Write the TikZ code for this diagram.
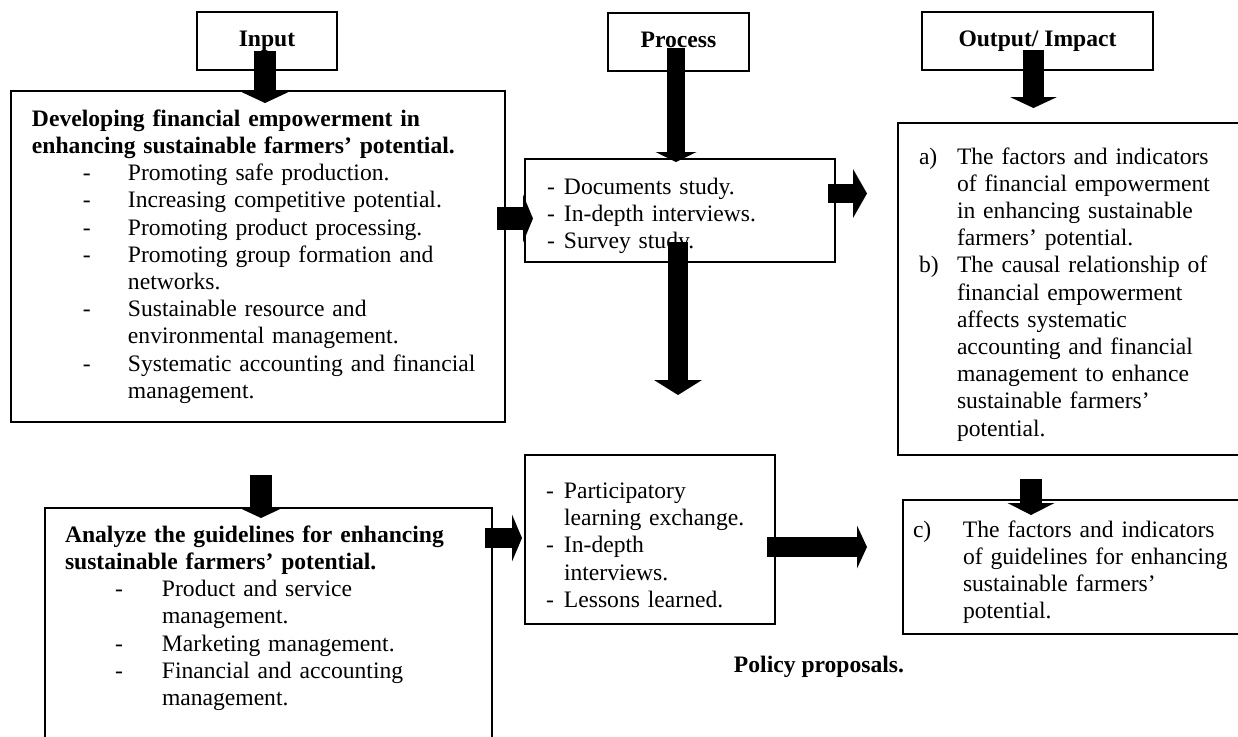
\documentclass[tikz,border=0pt]{standalone}
\usepackage{fontspec}
\setmainfont{Liberation Serif}
\usetikzlibrary{arrows.meta, calc}
\setlength{\parskip}{0pt}
\newcommand{\hangitem}[4]{\par\leftskip=#2\noindent\llap{\makebox[\dimexpr#2-#1\relax][l]{#3}}#4\par}

\begin{document}
\begin{tikzpicture}[x=0.5pt, y=0.5pt, line width=1pt,
	every node/.style = {font=\fontsize{11.8}{13.6}\selectfont, outer sep=0pt},
	head/.style = {draw, anchor=north west, inner sep=0pt, minimum height=29pt, text height=8pt, text depth=3pt, font=\fontsize{11.8}{13.6}\selectfont\bfseries},
	box/.style = {draw, anchor=north west, align=left},
	fat/.style = {line width=11pt, -{Triangle[width=23.5pt, length=5.5pt, line width=0pt]}}]
	\useasboundingbox (0,0) rectangle (1238,-736);
	\clip (0,0) rectangle (1238,-736);

	\node[head, minimum width=70pt] (Input) at (197,-12) {Input};
	\node[head, minimum width=70.5pt] (Process) at (608,-13) {Process};
	\node[head, minimum width=115.5pt] (Output) at (922,-12) {Output/ Impact};

	\node[box, text width=226pt, inner xsep=10.5pt, minimum width=247pt, minimum height=165.5pt] (InBox) at (11,-91) {{\bfseries Developing financial empowerment in\newline enhancing sustainable farmers’ potential.}
		\hangitem{25.5pt}{48pt}{-}{Promoting safe production.}
		\hangitem{25.5pt}{48pt}{-}{Increasing competitive potential.}
		\hangitem{25.5pt}{48pt}{-}{Promoting product processing.}
		\hangitem{25.5pt}{48pt}{-}{Promoting group formation and\newline networks.}
		\hangitem{25.5pt}{48pt}{-}{Sustainable resource and\newline environmental management.}
		\hangitem{25.5pt}{48pt}{-}{Systematic accounting and financial\newline management.}};

	\node[box, text width=133pt, inner xsep=11pt, minimum width=155pt, minimum height=51.5pt] (ProcA) at (525,-159) {\hangitem{0pt}{8.5pt}{-}{Documents study.}
		\hangitem{0pt}{8.5pt}{-}{In-depth interviews.}
		\hangitem{0pt}{8.5pt}{-}{Survey study.}};

	\node[box, text width=151pt, inner xsep=10.5pt, minimum width=172pt, minimum height=166pt] (OutBox) at (898,-123) {\hangitem{0pt}{19pt}{a)}{The factors and indicators\newline of financial empowerment\newline in enhancing sustainable\newline farmers’ potential.}
		\hangitem{0pt}{19pt}{b)}{The causal relationship of\newline financial empowerment\newline affects systematic\newline accounting and financial\newline management to enhance\newline sustainable farmers’\newline potential.}};

	\node[box, text width=203.5pt, inner xsep=10pt, inner ysep=8.8pt, minimum width=223.5pt] (Analyze) at (45,-508) {{\bfseries Analyze the guidelines for enhancing\newline sustainable farmers’ potential.}
		\hangitem{25pt}{48.5pt}{-}{Product and service\newline management.}
		\hangitem{25pt}{48.5pt}{-}{Marketing management.}
		\hangitem{25pt}{48.5pt}{-}{Financial and accounting\newline management.\rule[-20pt]{0pt}{0pt}}};

	\node[box, text width=104pt, inner xsep=10.5pt, minimum width=125pt, minimum height=84.5pt] (ProcB) at (525,-455) {\hangitem{0pt}{9pt}{-}{Participatory\newline learning exchange.}
		\hangitem{0pt}{9pt}{-}{In-depth\newline interviews.}
		\hangitem{0pt}{9pt}{-}{Lessons learned.}};

	\node[box, text width=162.5pt, inner xsep=5pt, minimum width=172.5pt, minimum height=67pt] (OutC) at (903,-500) {\hangitem{0pt}{25pt}{c)}{The factors and indicators\newline of guidelines for enhancing\newline sustainable farmers’\newline potential.}};

	\node[font=\fontsize{11.8}{13.6}\selectfont\bfseries] (Policy) at (819,-667) {Policy proposals.};

	% input side
	\draw[fat] ($(Input.south)+(-2,19)$) -- ($(Input.south |- InBox.north)+(-2,-12)$);
	\draw[fat, line width=11.5pt, -{Triangle[width=24pt, length=5pt, line width=0pt]}] ($(InBox.east |- ProcA.west)+(-8,-8)$) -- ($(ProcA.west)+(8,-8)$);
	\draw[fat] ($(InBox.south)+(3,-53)$) -- ($(InBox.south |- Analyze.north)+(3,-10)$);
	\draw[fat, line width=10pt, -{Triangle[width=23.5pt, length=5pt, line width=0pt]}] ($(Analyze.east |- ProcB.west)+(-7,1.5)$) -- ($(ProcB.west)+(-3,1.5)$);

	% process side
	\draw[fat, line width=9pt, -{Triangle[width=20.5pt, length=5pt, line width=0pt]}] ($(Process.south)+(-2.5,23)$) -- ($(Process.south |- ProcA.north)+(-2.5,-3)$);
	\draw[fat, line width=9.5pt, -{Triangle[width=24.5pt, length=7pt, line width=0pt]}] ($(ProcA.east)+(-7,17)$) -- ($(OutBox.west |- ProcA.east)+(-31,17)$);
	\draw[fat, line width=10pt, -{Triangle[width=24pt, length=7.5pt, line width=0pt]}] ($(ProcA.south)+(-2,20)$) -- ($(ProcA.south |- ProcB.north)+(-2,60)$);
	\draw[fat, line width=10pt, -{Triangle[width=21.5pt, length=5pt, line width=0pt]}] ($(ProcB.east)+(-8,-7.5)$) -- ($(OutC.west |- ProcB.east)+(-36,-7.5)$);

	% output side
	\draw[fat, line width=10.5pt] ($(Output.south)+(-4,20)$) -- ($(Output.south |- OutBox.north)+(-4,15)$);
	\draw[fat, -{Triangle[width=23.5pt, length=6pt, line width=0pt]}] ($(OutBox.south)+(-39,-24)$) -- ($(OutBox.south |- OutC.north)+(-39,-15)$);
\end{tikzpicture}
\end{document}
